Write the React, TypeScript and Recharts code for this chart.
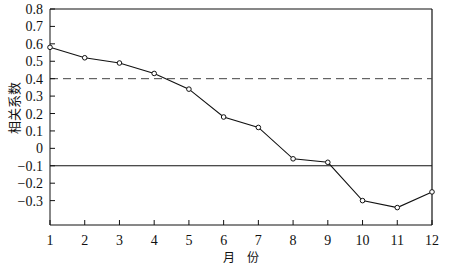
import {
  LineChart,
  Line,
  XAxis,
  YAxis,
  ReferenceLine
} from 'recharts';

const months = [1, 2, 3, 4, 5, 6, 7, 8, 9, 10, 11, 12];
const correlation = [0.58, 0.52, 0.49, 0.43, 0.34, 0.18, 0.12, -0.06, -0.08, -0.3, -0.34, -0.25];
const yTicks = [0.8, 0.7, 0.6, 0.5, 0.4, 0.3, 0.2, 0.1, 0, -0.1, -0.2, -0.3];
const yMin = -0.44;
const yMax = 0.8;
const dashedLevel = 0.4;
const solidLevel = -0.1;

const data = months.map((m, i) => ({ month: m, r: correlation[i] }));

const serif = 'Liberation Serif';
const cjk = 'Noto Sans CJK SC';

const fmtY = (v: number) => (v === 0 ? '0' : v.toFixed(1).replace('-', '\u2212'));

function XTick(props: any) {
  const { x, y, payload } = props;
  return (
    <text x={x} y={y + 13} textAnchor="middle" fontFamily={serif} fontSize={14} fill="#111">
      {payload.value}
    </text>
  );
}

function YTick(props: any) {
  const { x, y, payload } = props;
  return (
    <text x={x} y={y + 5} textAnchor="end" fontFamily={serif} fontSize={14} fill="#111">
      {fmtY(payload.value)}
    </text>
  );
}

function YTitle(props: any) {
  const { viewBox } = props;
  const cx = viewBox.x + 13;
  const cy = 108;
  return (
    <text
      x={cx}
      y={cy}
      transform={`rotate(-90 ${cx} ${cy})`}
      textAnchor="middle"
      dominantBaseline="central"
      fontFamily={cjk}
      fontSize={13}
      fill="#111"
    >
      相关系数
    </text>
  );
}

function XTitle(props: any) {
  const { viewBox } = props;
  const y = viewBox.y + 37;
  return (
    <g fontFamily={cjk} fontSize={12} fill="#111">
      <text x={229} y={y} textAnchor="middle">月</text>
      <text x={253} y={y} textAnchor="middle">份</text>
    </g>
  );
}

export default function App() {
  return (
    <div style={{ position: 'absolute', left: 0, top: 0, background: '#fff' }}>
      <LineChart width={455} height={270} data={data} margin={{ top: 9, right: 23, bottom: 0, left: 0 }}>
        <XAxis
          dataKey="month"
          type="number"
          domain={[1, 12]}
          ticks={months}
          interval={0}
          height={45}
          tickSize={-5}
          tickMargin={12}
          stroke="#111"
          tick={<XTick />}
          label={<XTitle />}
        />
        <YAxis
          type="number"
          domain={[yMin, yMax]}
          ticks={yTicks}
          interval={0}
          width={50}
          tickSize={-5}
          tickMargin={12}
          stroke="#111"
          tick={<YTick />}
          label={<YTitle />}
        />
        <ReferenceLine y={yMax} stroke="#111" strokeWidth={1.2} />
        <ReferenceLine x={12} stroke="#111" strokeWidth={1.2} />
        <ReferenceLine y={dashedLevel} stroke="#444" strokeDasharray="8 5" strokeWidth={1} />
        <ReferenceLine y={solidLevel} stroke="#111" strokeWidth={1.2} />
        <Line
          dataKey="r"
          stroke="#111"
          strokeWidth={1.1}
          dot={{ r: 2.3, fill: '#fff', stroke: '#111', strokeWidth: 1 }}
          isAnimationActive={false}
        />
      </LineChart>
    </div>
  );
}
